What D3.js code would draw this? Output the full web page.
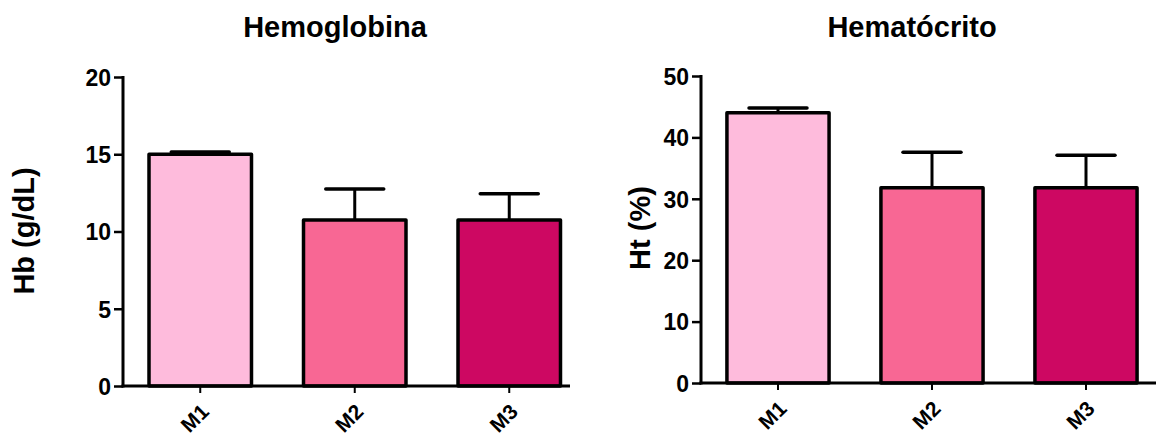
<!DOCTYPE html>
<html>
<head>
<meta charset="utf-8">
<script src="https://cdn.jsdelivr.net/npm/d3@7"></script>
<style>
  html, body { margin: 0; padding: 0; background: #fff; }
  svg { display: block; }
  text { font-family: "Liberation Sans", Arial, sans-serif; font-weight: bold; fill: #000; }
</style>
</head>
<body>
<svg id="chart" width="1156" height="439"></svg>
<script>
// Groups shared by both panels
const groups = ["M1", "M2", "M3"];
const barColors = ["#FEBBDC", "#F86794", "#CD0862"];

// Hemoglobin (g/dL): mean and upper SD
const hbMean = [15.0, 10.75, 10.75];
const hbSd = [0.15, 2.0, 1.7];
const hbTicks = [0, 5, 10, 15, 20];

// Hematocrit (%): mean and upper SD
const htMean = [44.0, 31.8, 31.8];
const htSd = [0.8, 5.8, 5.3];
const htTicks = [0, 10, 20, 30, 40, 50];

const svg = d3.select("#chart");

function drawPanel(opt) {
  const g = svg.append("g");
  const y = d3.scaleLinear().domain([0, opt.max]).range([opt.y0, opt.y1]);
  const x = d3.scaleBand().domain(groups)
    .range([opt.x0, opt.x0 + 3 * opt.step])
    .paddingInner(0.314).paddingOuter(0.157);
  const sw = 3.5;

  // bars
  g.selectAll("rect.bar").data(opt.mean).join("rect")
    .attr("class", "bar")
    .attr("x", (d, i) => x(groups[i]) + sw / 2)
    .attr("width", x.bandwidth() - sw)
    .attr("y", d => y(d))
    .attr("height", d => y(0) - y(d))
    .attr("fill", (d, i) => barColors[i])
    .attr("stroke", "#000")
    .attr("stroke-width", sw)
    .attr("stroke-linejoin", "round");

  // upper error bars
  const cap = 29;
  const err = g.selectAll("g.err").data(opt.mean).join("g").attr("class", "err");
  err.append("line")
    .attr("x1", (d, i) => x(groups[i]) + x.bandwidth() / 2)
    .attr("x2", (d, i) => x(groups[i]) + x.bandwidth() / 2)
    .attr("y1", d => y(d))
    .attr("y2", (d, i) => y(d + opt.sd[i]))
    .attr("stroke", "#000").attr("stroke-width", 3);
  err.append("line")
    .attr("x1", (d, i) => x(groups[i]) + x.bandwidth() / 2 - cap)
    .attr("x2", (d, i) => x(groups[i]) + x.bandwidth() / 2 + cap)
    .attr("y1", (d, i) => y(d + opt.sd[i]))
    .attr("y2", (d, i) => y(d + opt.sd[i]))
    .attr("stroke", "#000").attr("stroke-width", 3.5).attr("stroke-linecap", "round");

  // y axis
  const yAxis = d3.axisLeft(y).tickValues(opt.ticks).tickSize(9).tickPadding(3).tickFormat(d3.format("d"));
  const ya = g.append("g").attr("transform", `translate(${opt.x0},0)`).call(yAxis);
  ya.select(".domain").remove();
  ya.append("line").attr("x1", 0).attr("x2", 0).attr("y1", y(opt.max) - 1).attr("y2", y(0) + 1.5)
    .attr("stroke", "#000").attr("stroke-width", 3);
  ya.selectAll(".tick line").attr("stroke", "#000").attr("stroke-width", 2.5);
  ya.selectAll(".tick text").attr("font-size", 23).attr("dy", "0.36em")
    .style("font-family", "'Liberation Sans', Arial, sans-serif").style("font-weight", "bold");

  // x axis
  const xa = g.append("g").attr("transform", `translate(0,${y(0)})`);
  xa.append("line").attr("x1", opt.x0 - 1.5).attr("x2", opt.xEnd).attr("y1", 0).attr("y2", 0)
    .attr("stroke", "#000").attr("stroke-width", 3);
  const xt = xa.selectAll("g.xt").data(groups).join("g").attr("class", "xt")
    .attr("transform", d => `translate(${x(d) + x.bandwidth() / 2},0)`);
  xt.append("line").attr("y1", 0).attr("y2", 7).attr("stroke", "#000").attr("stroke-width", 2);
  xt.append("text")
    .attr("transform", "translate(10,27) rotate(-45)")
    .attr("text-anchor", "end")
    .attr("font-size", 21)
    .text(d => d);

  // titles
  g.append("text").attr("x", opt.titleX).attr("y", 37).attr("text-anchor", "middle")
    .attr("font-size", 29).text(opt.title);
  g.append("text")
    .attr("transform", `translate(${opt.yTitleX},${opt.yTitleY}) rotate(-90)`)
    .attr("text-anchor", "middle").attr("font-size", 29).text(opt.yTitle);
}

drawPanel({
  mean: hbMean, sd: hbSd, ticks: hbTicks, max: 20,
  y0: 386, y1: 77, x0: 123, step: 154.5, xEnd: 570,
  title: "Hemoglobina", titleX: 335,
  yTitle: "Hb (g/dL)", yTitleX: 34, yTitleY: 231
});

drawPanel({
  mean: htMean, sd: htSd, ticks: htTicks, max: 50,
  y0: 383, y1: 76, x0: 701, step: 154, xEnd: 1160,
  title: "Hematócrito", titleX: 912,
  yTitle: "Ht (%)", yTitleX: 650, yTitleY: 228
});
</script>
</body>
</html>
